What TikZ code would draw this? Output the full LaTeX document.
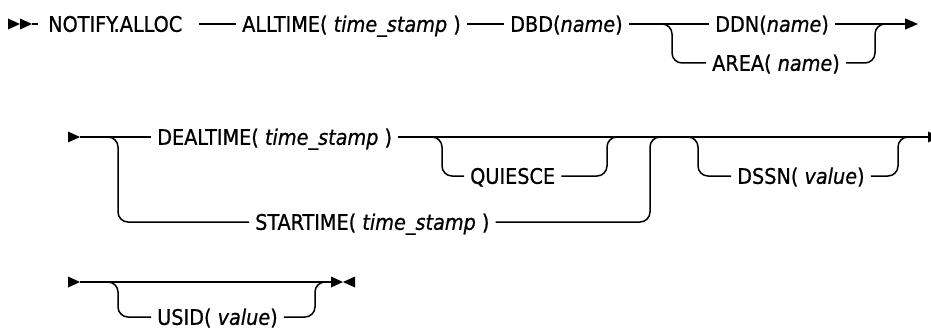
\documentclass[tikz,border=0pt]{standalone}
\usepackage{fontspec}
\setmainfont{DejaVu Sans Condensed}[
  BoldFont = DejaVu Sans Condensed,
  BoldItalicFont = DejaVu Sans Condensed Oblique,
  BoldFeatures = {FakeBold=0.8},
  BoldItalicFeatures = {FakeBold=0.8}]
\usetikzlibrary{arrows.meta}
\begin{document}
\begin{tikzpicture}[x=1pt,y=-1pt,
  lbl/.style={anchor=west,inner xsep=6pt,inner ysep=0pt,text height=15.6pt,text depth=0pt,font=\bfseries\fontsize{21.4}{24}\selectfont},
  rail/.style={line width=1.5pt,rounded corners=10pt},
  tip/.style={fill=black}]
\clip (0,0) rectangle (931,329);
\fill[white] (0,0) rectangle (931,329);
% ---------- row 1 ----------
\fill[tip] (8,18.5) -- (20,24) -- (8,29.5) -- cycle;
\fill[tip] (20,18.5) -- (32,24) -- (20,29.5) -- cycle;
\coordinate (s1) at (32,24);
\node[lbl] (notify) at (42,24) {NOTIFY.ALLOC};
\node[lbl] (alltime) at (236,24) {ALLTIME( \textit{time\_stamp} )};
\node[lbl] (dbd) at (504,24) {DBD(\textit{name})};
\node[lbl] (ddn) at (709,24) {DDN(\textit{name})};
\node[lbl] (area) at (706,63) {AREA( \textit{name})};
\coordinate (e1) at (918,24);
\draw[line width=1.5pt] (s1) -- ([xshift=-4pt]notify.west);
\draw[line width=1.5pt] ([xshift=11pt]notify.east) -- (alltime.west);
\draw[line width=1.5pt] (alltime.east) -- (dbd.west);
\draw[line width=1.5pt] (dbd.east) -- (ddn.west);
\draw[line width=1.5pt,-{Triangle[length=13pt,width=11pt]}] (ddn.east) -- (e1);
\draw[rail] (662,24) -- (672,24) -- (672,63) -- (area.west);
\draw[rail] (area.east) -- (875,63) -- (875,24) -- (885,24);
% ---------- row 2 ----------
\fill[tip] (68,131.5) -- (80,137) -- (68,142.5) -- cycle;
\coordinate (s2) at (80,137);
\node[lbl] (dealtime) at (151,137) {DEALTIME( \textit{time\_stamp} )};
\node[lbl] (startime) at (249,222) {STARTIME( \textit{time\_stamp} )};
\node[lbl] (quiesce) at (464,176) {QUIESCE};
\node[lbl] (dssn) at (731,176) {DSSN( \textit{value})};
\coordinate (e2) at (928,137);
\draw[line width=1.5pt] (s2) -- (dealtime.west);
\draw[line width=1.5pt] (dealtime.east) -- (e2);
\fill[tip] (928,131.5) -- (940,137) -- (928,142.5) -- cycle;
\draw[rail] (108,137) -- (118,137) -- (118,222) -- (startime.west);
\draw[rail] (startime.east) -- (650,222) -- (650,137) -- (660,137);
\draw[rail] (432,137) -- (442,137) -- (442,176) -- (quiesce.west);
\draw[rail] (quiesce.east) -- (607,176) -- (607,137) -- (617,137);
\draw[rail] (688,137) -- (698,137) -- (698,176) -- (dssn.west);
\draw[rail] (dssn.east) -- (898,176) -- (898,137) -- (908,137);
% ---------- row 3 ----------
\fill[tip] (68,276.5) -- (80,282) -- (68,287.5) -- cycle;
\coordinate (s3) at (80,282);
\coordinate (e3) at (331,282);
\node[lbl] (usid) at (151,317) {USID( \textit{value})};
\draw[line width=1.5pt] (s3) -- (e3);
\fill[tip] (331,276.5) -- (343,282) -- (331,287.5) -- cycle;
\fill[tip] (355,276.5) -- (343,282) -- (355,287.5) -- cycle;
\draw[rail] (108,282) -- (118,282) -- (118,317) -- (usid.west);
\draw[rail] (usid.east) -- (315,317) -- (315,282) -- (325,282);
\end{tikzpicture}
\end{document}
